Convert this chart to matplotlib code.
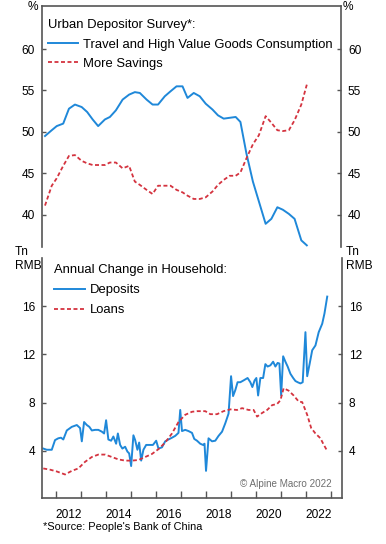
import matplotlib

matplotlib.use("Agg")
import matplotlib.pyplot as plt

plt.rcParams["font.family"] = ["Liberation Sans", "DejaVu Sans"]

BLUE = "#1f88d9"
RED = "#d4333f"
SPINE = "#555555"

# Urban depositor survey (%)
survey_years = [
    2011.56, 2011.83, 2012.03, 2012.29, 2012.52, 2012.76, 2013.03, 2013.25, 2013.47,
    2013.69, 2013.96, 2014.16, 2014.40, 2014.67, 2014.93, 2015.16, 2015.36, 2015.63,
    2015.87, 2016.09, 2016.36, 2016.59, 2016.83, 2017.07, 2017.27, 2017.52, 2017.76,
    2018.00, 2018.27, 2018.49, 2018.72, 2018.96, 2019.20, 2019.39, 2019.63, 2019.89,
    2020.13, 2020.40, 2020.63, 2020.87, 2021.09, 2021.33, 2021.56, 2021.83, 2022.05,
]
travel_consumption = [
    49.5, 50.2, 50.7, 51.0, 52.8, 53.3, 53.0, 52.4, 51.5, 50.7, 51.5, 51.8, 52.6, 53.9,
    54.5, 54.8, 54.7, 53.9, 53.3, 53.3, 54.3, 54.9, 55.5, 55.5, 54.1, 54.7, 54.3, 53.4,
    52.7, 52.0, 51.6, 51.7, 51.8, 51.2, 47.4, 44.0, 41.6, 38.9, 39.5, 40.9, 40.6, 40.1,
    39.5, 36.9, 36.3,
]
more_savings = [
    41.1, 43.5, 44.4, 45.9, 47.1, 47.2, 46.5, 46.2, 46.0, 46.0, 46.0, 46.3, 46.3, 45.6,
    45.9, 44.0, 43.6, 43.0, 42.5, 43.5, 43.5, 43.5, 43.0, 42.7, 42.3, 41.9, 41.9, 42.1,
    42.8, 43.6, 44.2, 44.7, 44.7, 45.1, 46.8, 48.5, 49.6, 51.9, 51.1, 50.2, 50.1, 50.2,
    51.4, 53.3, 55.7,
]

# Annual change in household deposits (Tn RMB)
deposit_years = [
    2011.49, 2011.63, 2011.83, 2011.96, 2012.09, 2012.20, 2012.29, 2012.43, 2012.63,
    2012.83, 2012.96, 2013.03, 2013.12, 2013.23, 2013.33, 2013.43, 2013.56, 2013.69,
    2013.83, 2013.92, 2014.00, 2014.09, 2014.20, 2014.29, 2014.40, 2014.47, 2014.56,
    2014.65, 2014.76, 2014.85, 2014.92, 2015.00, 2015.09, 2015.16, 2015.25, 2015.32,
    2015.40, 2015.49, 2015.60, 2015.73, 2015.87, 2016.00, 2016.09, 2016.23, 2016.36,
    2016.49, 2016.63, 2016.76, 2016.89, 2016.96, 2017.03, 2017.16, 2017.29, 2017.43,
    2017.52, 2017.63, 2017.76, 2017.87, 2017.93, 2017.99, 2018.09, 2018.23, 2018.36,
    2018.49, 2018.63, 2018.76, 2018.89, 2018.99, 2019.07, 2019.16, 2019.25, 2019.36,
    2019.49, 2019.65, 2019.76, 2019.84, 2019.93, 2020.00, 2020.07, 2020.16, 2020.27,
    2020.36, 2020.45, 2020.56, 2020.67, 2020.76, 2020.85, 2020.92, 2020.99, 2021.07,
    2021.16, 2021.25, 2021.36, 2021.47, 2021.56, 2021.65, 2021.76, 2021.85, 2021.96,
    2022.03, 2022.13, 2022.23, 2022.36, 2022.49, 2022.63, 2022.72, 2022.83,
]
deposits = [
    4.2, 4.1, 4.1, 4.9, 5.05, 5.1, 4.95, 5.7, 6.0, 6.15, 5.9, 4.8, 6.4, 6.15, 6.0, 5.7,
    5.75, 5.75, 5.6, 5.45, 6.55, 4.95, 4.85, 5.2, 4.6, 5.45, 4.5, 4.2, 4.35, 3.95, 3.8,
    2.75, 5.3, 4.9, 4.1, 4.7, 3.2, 4.1, 4.5, 4.5, 4.5, 4.85, 4.2, 4.3, 4.8, 4.95, 5.1,
    5.25, 5.5, 7.4, 5.65, 5.75, 5.65, 5.5, 5.0, 4.85, 4.6, 4.5, 4.6, 2.35, 5.05, 4.8,
    4.85, 5.25, 5.6, 6.3, 7.1, 10.2, 8.55, 9.05, 9.7, 9.7, 9.85, 10.05, 9.7, 9.3, 9.85,
    10.05, 8.6, 10.05, 10.05, 11.2, 11.0, 11.1, 11.4, 11.0, 11.3, 11.25, 8.6, 11.85,
    11.4, 11.0, 10.4, 10.05, 9.8, 9.7, 9.6, 9.7, 13.85, 10.2, 11.25, 12.35, 12.75,
    13.85, 14.55, 15.4, 16.8,
]

# Annual change in household loans (Tn RMB)
loan_years = [
    2011.49, 2011.76, 2012.03, 2012.36, 2012.63, 2012.89, 2013.16, 2013.43, 2013.69,
    2013.96, 2014.23, 2014.49, 2014.76, 2015.03, 2015.29, 2015.56, 2015.83, 2016.09,
    2016.36, 2016.63, 2016.89, 2017.16, 2017.43, 2017.63, 2017.96, 2018.16, 2018.43,
    2018.69, 2018.96, 2019.23, 2019.43, 2019.69, 2019.89, 2020.03, 2020.23, 2020.43,
    2020.63, 2020.83, 2020.96, 2021.09, 2021.29, 2021.49, 2021.69, 2021.83, 2022.03,
    2022.19, 2022.36, 2022.56, 2022.67, 2022.83,
]
loans = [
    2.55, 2.45, 2.3, 2.05, 2.35, 2.55, 3.1, 3.5, 3.7, 3.7, 3.5, 3.3, 3.2, 3.2, 3.25,
    3.5, 3.75, 4.15, 4.7, 5.45, 6.4, 7.0, 7.25, 7.3, 7.3, 7.05, 7.05, 7.3, 7.45, 7.4,
    7.55, 7.4, 7.4, 6.85, 7.15, 7.4, 7.8, 7.9, 8.2, 9.2, 9.0, 8.6, 8.1, 8.05, 7.0, 5.9,
    5.45, 5.05, 4.6, 4.0,
]

year_ticks = list(range(2012, 2024))
year_labels = ["2012", "2014", "2016", "2018", "2020", "2022"]

TICK_SIZE = 8.6
LEGEND_SIZE = 9.4
DASH = (0, (2.2, 1.4))


def style_axis(ax, yticks):
    ax.set_xlim(2011.44, 2023.42)
    for side in ("left", "right", "top", "bottom"):
        ax.spines[side].set_color(SPINE)
        ax.spines[side].set_linewidth(1.2)
    ax.set_yticks(yticks)
    ax.tick_params(axis="y", which="both", direction="in", length=3, width=1,
                   color=SPINE, labelsize=TICK_SIZE, pad=5, left=True, right=True,
                   labelleft=True, labelright=True)


fig = plt.figure(figsize=(3.86, 5.44), dpi=100)
ax_top = fig.add_axes([42 / 386, 1 - 247 / 544, 299 / 386, 241 / 544])
ax_bot = fig.add_axes([42 / 386, 1 - 498 / 544, 300 / 386, 240 / 544])

# top panel: survey
ax_top.plot(survey_years, travel_consumption, color=BLUE, lw=1.4,
            label="Travel and High Value Goods Consumption")
ax_top.plot(survey_years, more_savings, color=RED, lw=1.3, linestyle=DASH,
            label="More Savings")
style_axis(ax_top, [40, 45, 50, 55, 60])
ax_top.set_ylim(36.1, 65.2)
ax_top.spines["bottom"].set_visible(False)
ax_top.tick_params(axis="x", which="both", bottom=False, labelbottom=False)
ax_top.legend(loc="upper left", bbox_to_anchor=(0.02, 0.945), frameon=False,
              title="Urban Depositor Survey*:", alignment="left",
              fontsize=LEGEND_SIZE, title_fontsize=LEGEND_SIZE,
              handlelength=2.3, handletextpad=0.4, labelspacing=0.55,
              borderpad=0, borderaxespad=0)

# bottom panel: deposits and loans
ax_bot.plot(deposit_years, deposits, color=BLUE, lw=1.4, label="Deposits")
ax_bot.plot(loan_years, loans, color=RED, lw=1.3, linestyle=DASH, label="Loans")
style_axis(ax_bot, [4, 8, 12, 16])
ax_bot.set_ylim(0.1, 20.0)
ax_bot.spines["top"].set_visible(False)
ax_bot.set_xticks(year_ticks)
ax_bot.set_xticklabels([])
ax_bot.set_xticks([int(y) + 0.5 for y in year_labels], minor=True)
ax_bot.set_xticklabels(year_labels, minor=True)
ax_bot.tick_params(axis="x", which="major", direction="in", length=5, width=1,
                   color=SPINE)
ax_bot.tick_params(axis="x", which="minor", length=0, labelsize=TICK_SIZE, pad=8)
ax_bot.legend(loc="upper left", bbox_to_anchor=(0.04, 0.975), frameon=False,
              title="Annual Change in Household:", alignment="left",
              fontsize=LEGEND_SIZE, title_fontsize=LEGEND_SIZE,
              handlelength=2.4, handletextpad=0.35, labelspacing=0.62,
              borderpad=0, borderaxespad=0)
ax_bot.text(0.965, 0.06, "\u00a9 Alpine Macro 2022", transform=ax_bot.transAxes,
            ha="right", va="center", fontsize=7.1, color="#6e6e6e")

# unit labels
fig.text(33 / 386, 1 - 7 / 544, "%", ha="center", va="center", fontsize=TICK_SIZE)
fig.text(348 / 386, 1 - 7 / 544, "%", ha="center", va="center", fontsize=TICK_SIZE)
fig.text(15 / 386, 1 - 252 / 544, "Tn", ha="left", va="center", fontsize=TICK_SIZE)
fig.text(15 / 386, 1 - 266 / 544, "RMB", ha="left", va="center", fontsize=TICK_SIZE)
fig.text(346 / 386, 1 - 252 / 544, "Tn", ha="left", va="center", fontsize=TICK_SIZE)
fig.text(346 / 386, 1 - 266 / 544, "RMB", ha="left", va="center", fontsize=TICK_SIZE)
fig.text(43 / 386, 1 - 527 / 544, "*Source: People's Bank of China", ha="left",
         va="center", fontsize=7.9)

fig.savefig("out.png", dpi=100)
